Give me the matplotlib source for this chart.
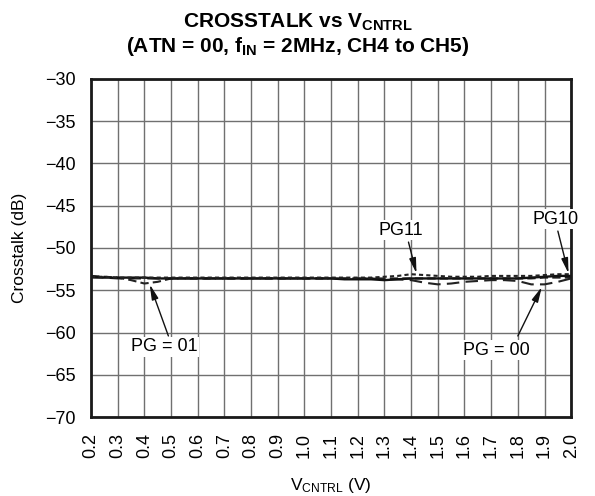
import numpy as np
import matplotlib
matplotlib.use('Agg')
import matplotlib.pyplot as plt

plt.rcParams['font.family'] = ['Liberation Sans', 'DejaVu Sans']
plt.rcParams['mathtext.fontset'] = 'custom'
plt.rcParams['mathtext.rm'] = 'Liberation Sans'
plt.rcParams['mathtext.it'] = 'Liberation Sans'
plt.rcParams['mathtext.bf'] = 'Liberation Sans:bold'

# control voltage sweep (V)
v_cntrl = [0.2, 0.25, 0.3, 0.35, 0.4, 0.45, 0.5, 0.55, 0.6, 0.65, 0.7, 0.75,
           0.8, 0.85, 0.9, 0.95, 1.0, 1.05, 1.1, 1.15, 1.2, 1.25, 1.3, 1.35,
           1.4, 1.45, 1.5, 1.55, 1.6, 1.65, 1.7, 1.75, 1.8, 1.85, 1.9, 1.95, 2.0]

# crosstalk (dB) for each PG setting
pg00 = [-53.5, -53.5, -53.6, -53.6, -53.6, -53.6, -53.6, -53.6, -53.6, -53.6,
        -53.6, -53.6, -53.6, -53.6, -53.6, -53.6, -53.6, -53.6, -53.6, -53.6,
        -53.6, -53.6, -53.7, -53.7, -53.8, -54.1, -54.3, -54.2, -54.0, -53.9,
        -53.8, -53.8, -53.9, -54.3, -54.3, -54.0, -53.6]
pg01 = [-53.3, -53.4, -53.5, -53.8, -54.2, -54.0, -53.6, -53.6, -53.6, -53.6,
        -53.6, -53.6, -53.6, -53.6, -53.6, -53.6, -53.6, -53.6, -53.6, -53.6,
        -53.6, -53.6, -53.6, -53.6, -53.6, -53.6, -53.6, -53.6, -53.6, -53.6,
        -53.6, -53.6, -53.6, -53.6, -53.5, -53.5, -53.5]
pg10 = [-53.4, -53.5, -53.5, -53.5, -53.5, -53.6, -53.6, -53.6, -53.6, -53.6,
        -53.6, -53.6, -53.6, -53.6, -53.6, -53.6, -53.6, -53.6, -53.6, -53.7,
        -53.7, -53.7, -53.8, -53.7, -53.6, -53.6, -53.6, -53.6, -53.6, -53.6,
        -53.6, -53.6, -53.6, -53.5, -53.4, -53.3, -53.3]
pg11 = [-53.4, -53.4, -53.5, -53.5, -53.5, -53.5, -53.5, -53.5, -53.5, -53.5,
        -53.5, -53.5, -53.5, -53.5, -53.5, -53.5, -53.5, -53.5, -53.5, -53.5,
        -53.5, -53.5, -53.4, -53.3, -53.1, -53.2, -53.3, -53.4, -53.4, -53.4,
        -53.3, -53.3, -53.3, -53.3, -53.2, -53.1, -53.1]

x_ticks = [0.2, 0.3, 0.4, 0.5, 0.6, 0.7, 0.8, 0.9, 1.0, 1.1, 1.2, 1.3, 1.4,
           1.5, 1.6, 1.7, 1.8, 1.9, 2.0]
y_ticks = [-70, -65, -60, -55, -50, -45, -40, -35, -30]

fig = plt.figure(figsize=(5.95, 4.96), dpi=100)
ax = fig.add_axes([0.153, 0.159, 0.807, 0.682])

ax.plot(v_cntrl, pg00, color='#222222', lw=1.5, ls=(0, (6, 3)))
ax.plot(v_cntrl, pg01, color='#222222', lw=1.5, ls=(0, (4, 2)))
ax.plot(v_cntrl, pg10, color='#111111', lw=1.7, ls='-')
ax.plot(v_cntrl, pg11, color='#222222', lw=1.5, ls=(0, (2, 1.5)))

ax.set_xlim(0.2, 2.0)
ax.set_ylim(-70, -30)
ax.set_xticks(x_ticks)
ax.set_xticklabels(['%.1f' % t for t in x_ticks], rotation=90, fontsize=13)
ax.set_yticks(y_ticks)
ax.set_yticklabels(['\u2212%d' % abs(t) for t in y_ticks], fontsize=13)
ax.tick_params(axis='both', length=0)
ax.tick_params(axis='x', pad=11.5)
ax.tick_params(axis='y', pad=11)
ax.grid(True, color='#707070', lw=1.0)
ax.set_axisbelow(True)
for s in ax.spines.values():
    s.set_linewidth(2.0)
    s.set_color('#1a1a1a')

ax.set_ylabel('Crosstalk (dB)', fontsize=12.5, labelpad=13)
ax.set_xlabel(r'V$_{\mathrm{CNTRL}}$ (V)', fontsize=12.5, labelpad=12.5)

fig.text(0.5, 0.944, r'CROSSTALK vs V$_{\mathbf{CNTRL}}$', ha='center', va='baseline',
         fontsize=15, fontweight='bold')
fig.text(0.5, 0.895, r'(ATN = 00, f$_{\mathbf{IN}}$ = 2MHz, CH4 to CH5)', ha='center',
         va='baseline', fontsize=15, fontweight='bold')

arrow = dict(arrowstyle='-|>,head_length=0.9,head_width=0.2', color='#111111',
             lw=1.0, shrinkA=0, shrinkB=0)
box = dict(facecolor='white', edgecolor='none', pad=1.0)
ax.annotate('', xy=(0.42, -54.3), xytext=(0.49, -60.4), arrowprops=arrow)
ax.text(0.476, -61.7, 'PG = 01', ha='center', va='center', fontsize=13, bbox=box)
ax.annotate('', xy=(1.42, -53.0), xytext=(1.39, -49.3), arrowprops=arrow)
ax.text(1.363, -47.9, 'PG11', ha='center', va='center', fontsize=13, bbox=box)
ax.annotate('', xy=(1.99, -53.0), xytext=(1.95, -48.0), arrowprops=arrow)
ax.text(1.94, -46.6, 'PG10', ha='center', va='center', fontsize=13, bbox=box)
ax.annotate('', xy=(1.89, -54.6), xytext=(1.80, -60.4), arrowprops=arrow)
ax.text(1.72, -62.1, 'PG = 00', ha='center', va='center', fontsize=13, bbox=box)

fig.savefig('out.png', dpi=100)
